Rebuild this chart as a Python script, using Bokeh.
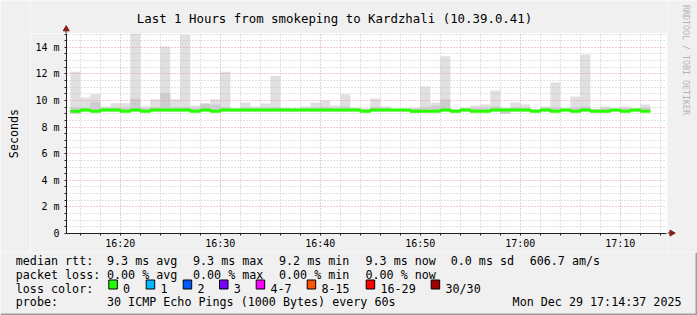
from math import pi
import pandas as pd
from bokeh.plotting import figure
from bokeh.models import Range1d, FixedTicker, DatetimeTickFormatter
from bokeh.layouts import column, row
from bokeh.embed import file_html
from bokeh.resources import INLINE
from bokeh.core.properties import value

# ---------------- data ----------------
TITLE = "Last 1 Hours from smokeping to Kardzhali (10.39.0.41)"
Y_LABEL = "Seconds"
WATERMARK = "RRDTOOL / TOBI OETIKER"
t_start = pd.Timestamp("2025-12-29 16:14:37")
t_end = pd.Timestamp("2025-12-29 17:14:37")
first_step = pd.Timestamp("2025-12-29 16:15:00")

# smoke: highest ping per minute (ms)
ping_max = [12.17, 10.23, 10.48, 9.55, 9.80, 9.80, 15.10, 9.55, 10.10, 14.07,
            10.10, 14.92, 9.63, 9.80, 10.10, 12.17, 9.40, 9.86, 9.55, 9.78,
            11.84, 9.46, 9.40, 9.55, 9.86, 10.00, 9.63, 10.48, 9.45, 9.40,
            10.16, 9.55, 9.35, 9.35, 9.45, 11.06, 9.86, 13.32, 9.35, 9.45,
            9.63, 9.70, 10.76, 9.45, 9.86, 9.70, 9.35, 9.55, 11.36, 9.40,
            10.30, 13.47, 9.35, 9.55, 9.35, 9.55, 9.40, 9.70]
# smoke: top of the dense (darker) part of the ping distribution
ping_dense = [9.50, 9.42, 9.90, 9.42, 9.45, 9.45, 10.15, 9.42, 9.50, 10.55,
              9.50, 9.50, 9.42, 9.75, 9.70, 9.50, 9.38, 9.45, 9.42, 9.45,
              9.50, 9.40, 9.38, 9.42, 9.45, 9.50, 9.42, 9.55, 9.40, 9.38,
              9.50, 9.42, 9.35, 9.35, 9.40, 9.50, 9.60, 10.10, 9.35, 9.40,
              9.45, 9.45, 9.55, 9.40, 9.50, 9.45, 9.35, 9.42, 9.50, 9.38,
              9.50, 9.55, 9.35, 9.42, 9.35, 9.42, 9.38, 9.45]
# smoke: lowest ping per minute
ping_min = [9.02, 9.18, 9.18, 9.18, 9.18, 9.18, 9.18, 9.18, 9.18, 9.18,
            9.18, 9.18, 9.18, 9.18, 9.18, 9.18, 9.18, 9.18, 9.18, 9.18,
            9.18, 9.18, 9.18, 9.18, 9.18, 9.18, 9.18, 9.18, 9.18, 9.12,
            9.18, 9.18, 9.18, 9.18, 9.08, 9.18, 9.18, 9.18, 9.12, 9.18,
            9.18, 9.18, 9.18, 9.02, 9.18, 9.18, 9.18, 9.18, 9.18, 9.18,
            9.18, 9.18, 9.18, 9.18, 9.18, 9.18, 9.18, 9.18]
# median rtt per minute
median = [9.20, 9.28, 9.20, 9.28, 9.28, 9.20, 9.28, 9.20, 9.28, 9.28,
          9.28, 9.28, 9.20, 9.28, 9.20, 9.28, 9.28, 9.28, 9.28, 9.28,
          9.28, 9.28, 9.28, 9.28, 9.28, 9.28, 9.28, 9.28, 9.28, 9.20,
          9.28, 9.28, 9.28, 9.28, 9.20, 9.20, 9.20, 9.28, 9.20, 9.28,
          9.20, 9.20, 9.28, 9.28, 9.28, 9.28, 9.20, 9.28, 9.20, 9.28,
          9.20, 9.28, 9.20, 9.20, 9.28, 9.20, 9.28, 9.20]

y_ticks = [0, 2, 4, 6, 8, 10, 12, 14]
y_tick_labels = ["0", "2 m", "4 m", "6 m", "8 m", "10 m", "12 m", "14 m"]
y_minor_step = 0.5
Y_TOP = 15.04

legend_line1 = ["median rtt:", "9.3 ms avg", "9.3 ms max", "9.2 ms min",
                "9.3 ms now", "0.0 ms sd", "606.7   am/s"]
legend_line2 = ["packet loss:", "0.00 % avg", "0.00 % max", "0.00 % min",
                "0.00 % now"]
loss_title = "loss color:"
loss_labels = ["0", "1", "2", "3", "4-7", "8-15", "16-29", "30/30"]
loss_colors = ["#26ff00", "#00b8ff", "#0059ff", "#7e00ff", "#ff00ff",
               "#ff5500", "#ff0000", "#a10000"]
probe_line = ["probe:", "30 ICMP Echo Pings (1000 Bytes) every 60s"]
stamp = "Mon Dec 29 17:14:37 2025"

# ---------------- styles ----------------
BG = "#f0f0f0"
FONT = "DejaVu Sans Mono"
AXIS_C = "#202020"
ARROW_C = "#8b1a1a"
LIGHT_SMOKE = "#e0e0e0"
DARK_SMOKE = "#cdcdcd"
MEDIAN_C = loss_colors[0]

n = len(ping_max)
starts = pd.date_range(first_step, periods=n, freq="1min")
ends = starts + pd.Timedelta(minutes=1)


def strip(w, h, x0, x1, y_bottom, y_top):
    """A plain pixel-mapped panel used for the texts around the graph."""
    f = figure(width=w, height=h, x_range=Range1d(x0, x1),
               y_range=Range1d(y_bottom, y_top), output_backend="svg",
               toolbar_location=None, min_border=0,
               x_axis_location=None, y_axis_location=None)
    f.frame_align = False
    f.title.text = ""
    f.background_fill_color = BG
    f.border_fill_color = BG
    f.outline_line_color = None
    f.grid.grid_line_color = None
    return f


# ---------------- main graph (canvas x 30..667, y 33..252) ----------------
p = figure(width=637, height=219, x_axis_type="datetime",
           x_range=Range1d(t_start, t_end), y_range=Range1d(0, Y_TOP),
           output_backend="svg", toolbar_location=None,
           min_border_left=36, min_border_right=1,
           min_border_top=0, min_border_bottom=19)
p.frame_align = False
p.title.text = ""
p.background_fill_color = "#ffffff"
p.border_fill_color = BG
p.outline_line_color = None

# smoke
p.quad(left=starts, right=ends, bottom=ping_min, top=ping_max,
       fill_color=LIGHT_SMOKE, line_color=None, level="image")
p.quad(left=starts, right=ends, bottom=ping_min, top=ping_dense,
       fill_color=DARK_SMOKE, line_color=None, level="image")

# median line
step_x = list(starts) + [ends[-1]]
step_y = median + [median[-1]]
p.step(x=step_x, y=step_y, mode="after", line_color=MEDIAN_C, line_width=3)

# ticks
major_x = pd.date_range("2025-12-29 16:20", "2025-12-29 17:10", freq="10min")
minor_x = [t for t in pd.date_range("2025-12-29 16:16", "2025-12-29 17:14",
                                    freq="2min") if t.minute % 10 != 0]
p.xaxis.ticker = FixedTicker(ticks=[t.value / 1e6 for t in major_x],
                             minor_ticks=[t.value / 1e6 for t in minor_x])
p.xaxis.formatter = DatetimeTickFormatter(minutes="%H:%M", hourmin="%H:%M",
                                          hours="%H:%M", minsec="%H:%M")
y_minor = [k * y_minor_step for k in range(int(15 / y_minor_step) + 1)
           if (k * y_minor_step) not in y_ticks]
p.yaxis.ticker = FixedTicker(ticks=y_ticks, minor_ticks=y_minor)
p.yaxis.major_label_overrides = dict(zip(y_ticks, y_tick_labels))

for ax in (p.xaxis, p.yaxis):
    ax.axis_line_color = AXIS_C
    ax.major_tick_line_color = AXIS_C
    ax.minor_tick_line_color = AXIS_C
    ax.major_tick_in = 0
    ax.minor_tick_in = 0
    ax.major_tick_out = 2
    ax.minor_tick_out = 2
    ax.major_label_text_font = FONT
    ax.major_label_text_font_size = "10px"
    ax.major_label_text_color = "#000000"
p.yaxis.major_label_standoff = 5
p.xaxis.major_label_standoff = 2

for g in (p.xgrid, p.ygrid):
    g.grid_line_color = "#e09a9a"
    g.grid_line_dash = "1 2"
    g.minor_grid_line_color = "#c4c4c4"
    g.minor_grid_line_dash = "1 2"
    g.level = "underlay"

# ---------------- top strip: title + y-axis arrow (x 30..667, y 0..33) ----
top = strip(637, 33, 30, 667, 33, 0)
top.text(x=[334], y=[18.3], text=[TITLE], text_font=value(FONT),
         text_font_size=value("12.4px"), text_align="center",
         text_baseline="alphabetic", text_color="#000000")
top.segment(x0=[65.5], y0=[29], x1=[65.5], y1=[33], line_color=AXIS_C,
            line_width=1)
top.scatter(x=[65.7], y=[28.6], marker="triangle", size=6,
            fill_color=ARROW_C, line_color=ARROW_C)

# ---------------- left strip: y label (x 0..30, y 0..252) ----------------
left = strip(30, 252, 0, 30, 252, 0)
left.text(x=[13.3], y=[133], text=[Y_LABEL], angle=pi / 2,
          text_font=value(FONT), text_font_size=value("11.7px"),
          text_align="center", text_baseline="alphabetic",
          text_color="#000000")

# ---------------- right strip: watermark + x-axis arrow (x 667..697) ------
right = strip(30, 252, 667, 697, 252, 0)
right.text(x=[685.3], y=[4.5], text=[WATERMARK], angle=-pi / 2,
           text_font=value(FONT), text_font_size=value("8.3px"),
           text_align="left", text_baseline="alphabetic",
           text_color="#b4b4b4")
right.segment(x0=[667], y0=[232.5], x1=[670], y1=[232.5], line_color=AXIS_C,
              line_width=1)
right.scatter(x=[671.2], y=[232.6], marker="triangle", size=6, angle=-pi / 2,
              fill_color=ARROW_C, line_color=ARROW_C)

# ---------------- legend area (x 0..697, y 252..315) ----------------
q = strip(697, 63, 0, 697, 315, 252)

baselines = [260.2, 274.1, 288.0, 301.9]
col_x = [15.3, 106.5, 192.5, 278.5, 365.0, 450.2, 529.2]

tx, ty, tt = [], [], []
for i, s in enumerate(legend_line1):
    tx.append(col_x[i]); ty.append(baselines[0]); tt.append(s)
for i, s in enumerate(legend_line2):
    tx.append(col_x[i]); ty.append(baselines[1]); tt.append(s)
tx.append(col_x[0]); ty.append(baselines[2]); tt.append(loss_title)
for i, s in enumerate(probe_line):
    tx.append(col_x[i]); ty.append(baselines[3]); tt.append(s)

box_left = [108.3, 145.7, 182.7, 219.0, 255.7, 306.7, 365.7, 430.7]
for bl, s in zip(box_left, loss_labels):
    tx.append(bl + 14.3); ty.append(baselines[2]); tt.append(s)

q.text(x=tx, y=ty, text=tt, text_font=value(FONT),
       text_font_size=value("11.7px"), text_baseline="alphabetic",
       text_align="left", text_color="#000000")
q.text(x=[681.0], y=[baselines[3]], text=[stamp], text_font=value(FONT),
       text_font_size=value("11.7px"), text_baseline="alphabetic",
       text_align="right", text_color="#000000")

q.quad(left=box_left, right=[b + 8.5 for b in box_left],
       top=[279.5] * len(box_left), bottom=[288.5] * len(box_left),
       fill_color=loss_colors, line_color="#000000", line_width=1)

# 3D border (bottom / right shade)
q.quad(left=[0, 695], right=[697, 697], top=[313, 252], bottom=[315, 315],
       fill_color="#9e9e9e", line_color=None)

layout = column(row(left, column(top, p, spacing=0), right, spacing=0), q,
                spacing=0)
open("out.html", "w").write(file_html(layout, INLINE))
